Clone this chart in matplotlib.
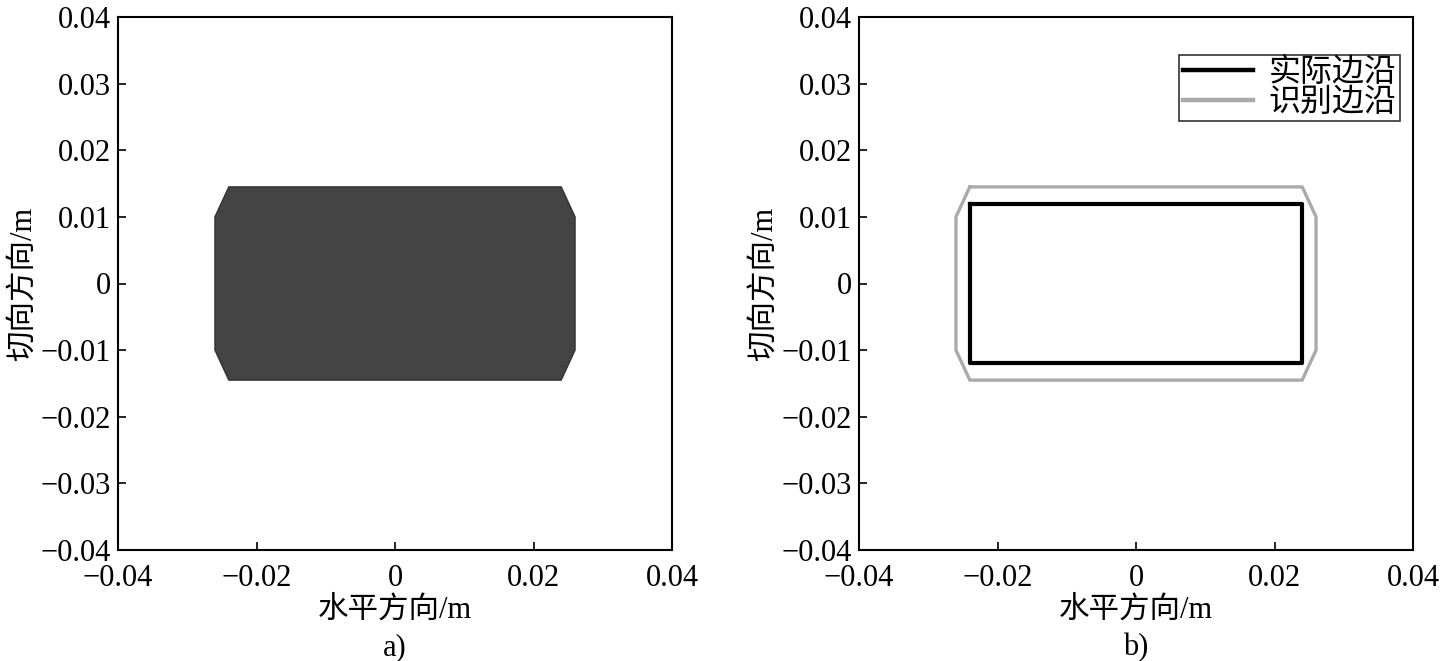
import matplotlib
matplotlib.use("Agg")
import matplotlib.pyplot as plt
import numpy as np

plt.rcParams['font.family'] = ['Liberation Serif', 'Noto Sans CJK SC']
plt.rcParams['axes.unicode_minus'] = True

# Data
ticks = [-0.04, -0.02, 0, 0.02, 0.04]
yticks = [-0.04, -0.03, -0.02, -0.01, 0, 0.01, 0.02, 0.03, 0.04]
# identified edge (octagon)
ident_x = [-0.024, 0.024, 0.026, 0.026, 0.024, -0.024, -0.026, -0.026, -0.024]
ident_y = [0.0145, 0.0145, 0.010, -0.010, -0.0145, -0.0145, -0.010, 0.010, 0.0145]
# actual edge (rectangle)
actual_x = [-0.024, 0.024, 0.024, -0.024, -0.024]
actual_y = [0.012, 0.012, -0.012, -0.012, 0.012]
legend_labels = ['实际边沿', '识别边沿']
xlabel = '水平方向/m'
ylabel = '切向方向/m'
panel_labels = ['a)', 'b)']


def fmt(v):
    if v == 0:
        return '0'
    s = f'{abs(v):g}'
    return ('\u2212' if v < 0 else '') + s


fig = plt.figure(figsize=(14.42, 6.61), dpi=100)
axes = [fig.add_axes([118/1442, 1-550/661, 554/1442, 533/661]),
        fig.add_axes([859/1442, 1-550/661, 554/1442, 533/661])]

for i, ax in enumerate(axes):
    ax.set_xlim(-0.04, 0.04)
    ax.set_ylim(-0.04, 0.04)
    ax.set_xticks(ticks)
    ax.set_xticklabels([fmt(t) for t in ticks])
    ax.set_yticks(yticks)
    ax.set_yticklabels([fmt(t) for t in yticks])
    ax.tick_params(direction='in', length=6, width=1.2, labelsize=22,
                   top=False, right=False)
    ax.tick_params(axis='y', pad=5)
    ax.tick_params(axis='x', pad=10)
    for sp in ax.spines.values():
        sp.set_linewidth(1.5)
    ax.set_xlabel(xlabel, fontsize=22, labelpad=2)
    ax.set_ylabel(ylabel, fontsize=22, labelpad=2)
    ax.text(0.5, -0.184, panel_labels[i], transform=ax.transAxes,
            ha='center', va='center', fontsize=22)

# Panel a: filled identified region
ax = axes[0]
ax.fill(ident_x, ident_y, color='#444444', edgecolor='#333333', linewidth=1.0)

# Panel b: outlines
ax = axes[1]
ax.plot(ident_x, ident_y, color='#aaaaaa', linewidth=2.4, label=legend_labels[1], zorder=2)
ax.plot(actual_x, actual_y, color='black', linewidth=3.0, label=legend_labels[0], zorder=3)
h, l = ax.get_legend_handles_labels()
leg = ax.legend([h[1], h[0]], [l[1], l[0]], loc='upper right', fontsize=23,
                frameon=True, fancybox=False, edgecolor='black',
                borderpad=0.1, labelspacing=0.0, handlelength=2.2,
                handletextpad=0.5, borderaxespad=0.0,
                bbox_to_anchor=(0.9765, 0.9285))
leg.get_frame().set_linewidth(1.2)
for ln in leg.get_lines():
    ln.set_linewidth(3.2)

fig.savefig('out.png', dpi=100)
